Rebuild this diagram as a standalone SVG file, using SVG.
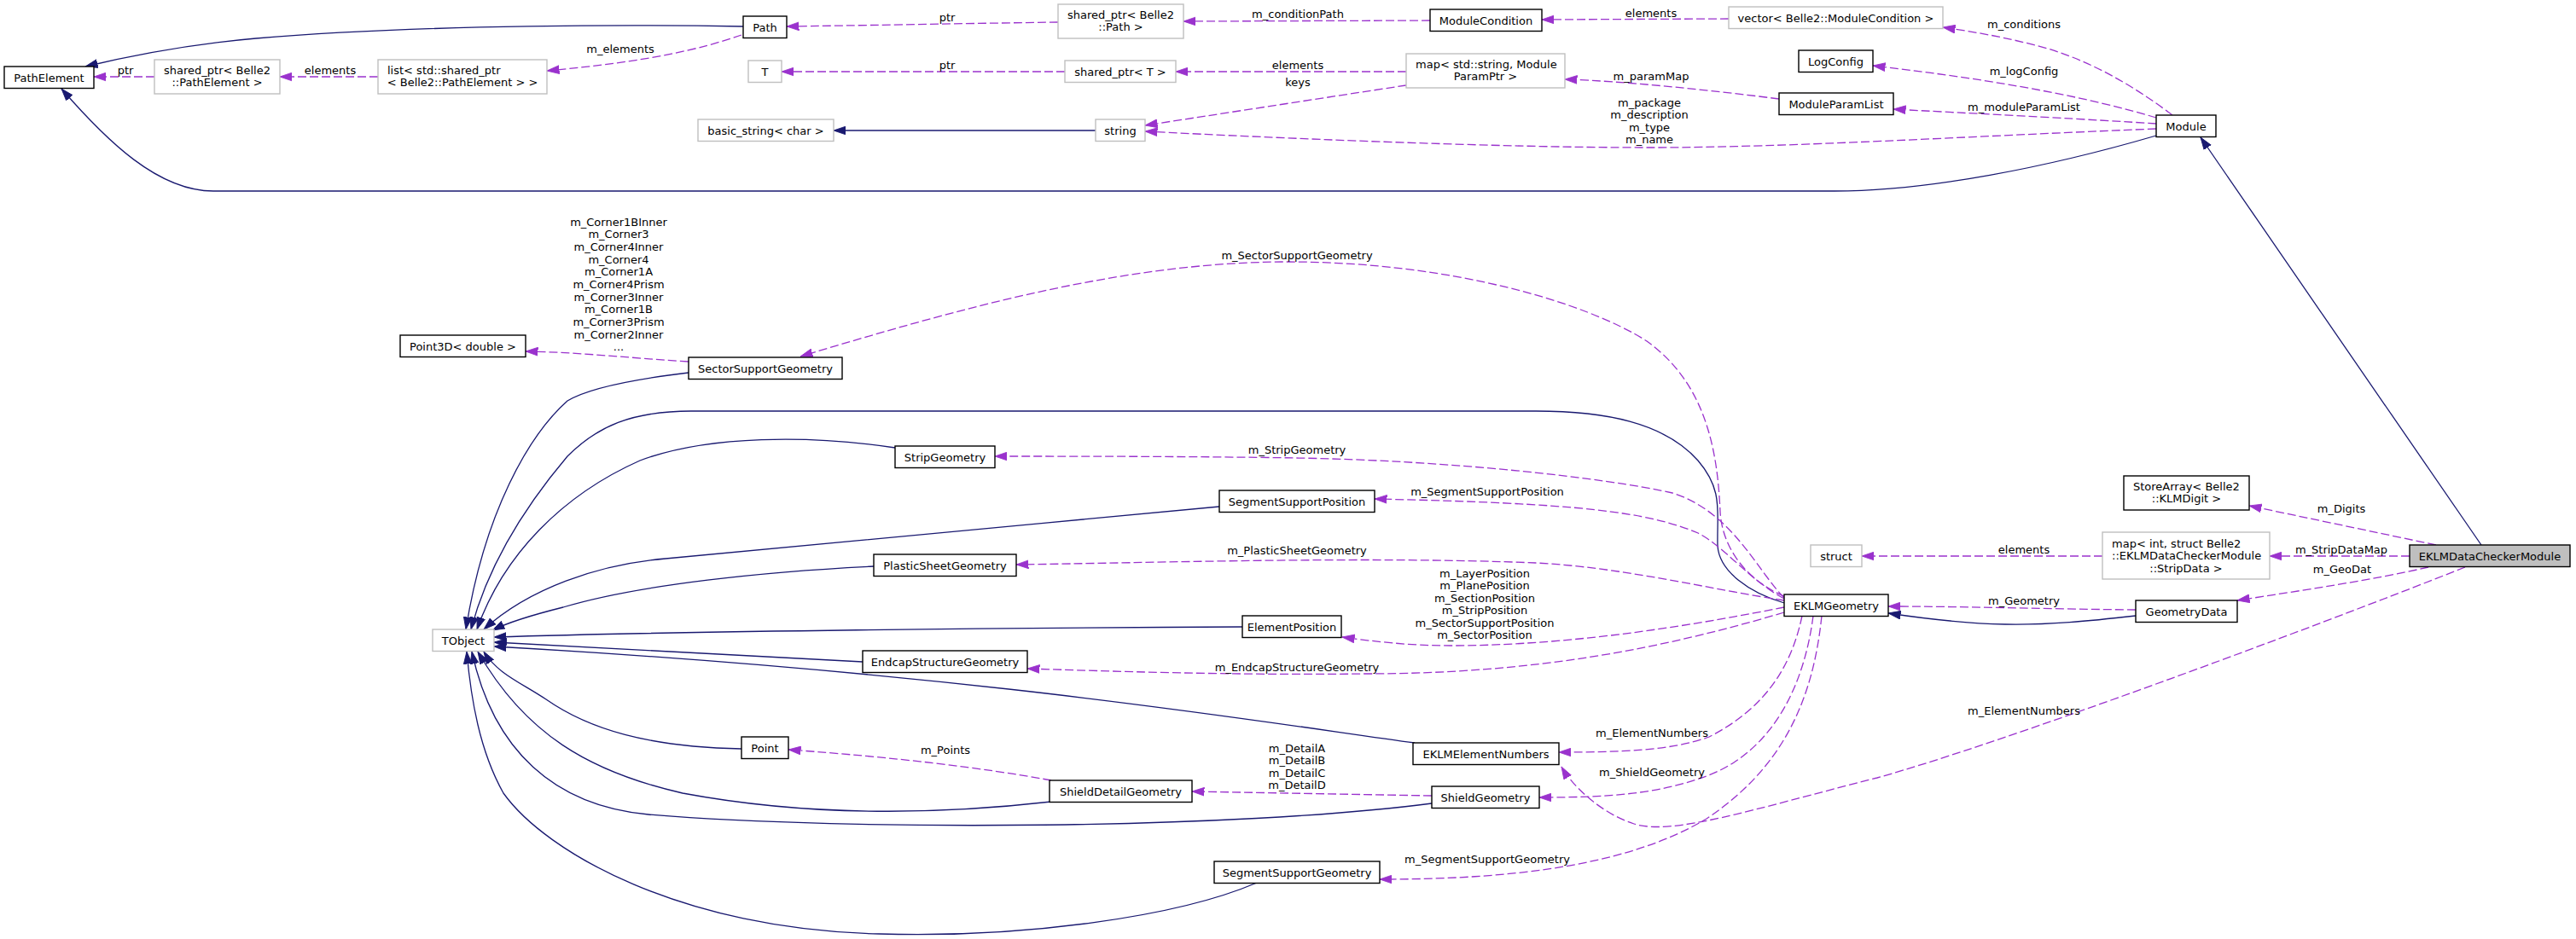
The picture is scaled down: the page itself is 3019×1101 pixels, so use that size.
<svg xmlns="http://www.w3.org/2000/svg" width="3019" height="1101" viewBox="0 0 3019 1101">
<style>
text{font-family:"DejaVu Sans","Liberation Sans",sans-serif;font-size:13px;fill:#000}
.m{text-anchor:middle}
.s{text-anchor:start}
.n rect{fill:#fff;stroke:#000;stroke-width:1.4}
.g rect{fill:#fff;stroke:#bfbfbf;stroke-width:1.4}
.cur rect{fill:#bfbfbf;stroke:#000;stroke-width:1.4}
.inh{fill:none;stroke:#191970;stroke-width:1.3;marker-end:url(#ah)}
.use{fill:none;stroke:#9a32cd;stroke-width:1.3;stroke-dasharray:10,4;marker-end:url(#au)}
</style>
<defs>
<marker id="ah" markerUnits="userSpaceOnUse" markerWidth="15" markerHeight="11" viewBox="0 0 14 10" refX="13.5" refY="5" orient="auto"><path d="M0,0.4 L13.5,5 L0,9.6 z" fill="#191970" stroke="#191970" stroke-width="0.8"/></marker>
<marker id="au" markerUnits="userSpaceOnUse" markerWidth="15" markerHeight="11" viewBox="0 0 14 10" refX="13.5" refY="5" orient="auto"><path d="M0,0.4 L13.5,5 L0,9.6 z" fill="#9a32cd" stroke="#9a32cd" stroke-width="0.8"/></marker>
</defs>
<rect width="3019" height="1101" fill="#fff"/>
<g id="edges">
<!-- inheritance -->
<path class="inh" d="M871,31 C760,29 500,28 300,45 C220,52 150,66 100,78"/>
<path class="inh" d="M2527,159 C2400,196 2260,224 2150,224 L250,224 C185,224 125,165 72,104"/>
<path class="inh" d="M2908,639 L2579,161"/>
<path class="inh" d="M1284,153 L977,153"/>
<path class="inh" d="M807,437 C740,445 690,455 665,470 C620,510 568,600 546,738"/>
<path class="inh" d="M2091,707 C2050,695 2015,670 2013,640 C2012,600 2020,575 1990,540 C1950,495 1880,482 1800,482 L810,482 C740,482 700,500 665,535 C610,600 570,670 552,738"/>
<path class="inh" d="M1049,525 C950,510 830,510 750,540 C660,580 590,650 559,738"/>
<path class="inh" d="M1429,594 C1200,615 900,645 780,655 C700,662 620,690 567,738"/>
<path class="inh" d="M1024,664 C900,670 750,685 660,712 C620,722 595,730 577,739"/>
<path class="inh" d="M1456,735 C1200,736 800,740 579,747"/>
<path class="inh" d="M1011,776 C850,768 700,760 579,753"/>
<path class="inh" d="M1658,871 C1500,850 1150,790 579,758"/>
<path class="inh" d="M869,878 C760,876 690,855 640,820 C610,800 583,790 567,764"/>
<path class="inh" d="M1232,940 C1100,955 950,958 800,930 C690,905 615,860 560,764"/>
<path class="inh" d="M1678,942 C1450,972 1000,975 760,955 C650,945 578,880 553,764"/>
<path class="inh" d="M1473,1035 C1380,1075 1200,1100 1030,1095 C800,1090 640,1000 590,930 C562,880 552,820 547,764"/>
<path class="inh" d="M2503,722 C2450,728 2400,733 2350,732 C2300,731 2260,726 2213,719"/>
<!-- usage -->
<path class="use" d="M181,90 L110,90"/>
<text class="m" x="147" y="86.5">ptr</text>
<path class="use" d="M443,90 L328,90"/>
<text class="m" x="387" y="86.5">elements</text>
<path class="use" d="M869,41 C820,58 760,72 641,83"/>
<text class="m" x="727" y="61.5">m_elements</text>
<path class="use" d="M1240,26 C1100,28 1000,30 922,31"/>
<text class="m" x="1110" y="24.5">ptr</text>
<path class="use" d="M1676,24 L1387,25"/>
<text class="m" x="1521" y="20.5">m_conditionPath</text>
<path class="use" d="M2026,22 L1807,23"/>
<text class="m" x="1935" y="19.5">elements</text>
<path class="use" d="M2546,135 C2500,100 2450,72 2400,57 C2350,43 2310,37 2277,32"/>
<text class="m" x="2372" y="32.5">m_conditions</text>
<path class="use" d="M1248,84 L916,84"/>
<text class="m" x="1110" y="80.5">ptr</text>
<path class="use" d="M1648,84 L1378,84"/>
<text class="m" x="1521" y="80.5">elements</text>
<path class="use" d="M1648,100 C1550,115 1420,135 1342,147"/>
<text class="m" x="1521" y="100.5">keys</text>
<path class="use" d="M2527,138 C2450,115 2350,95 2195,77"/>
<text class="m" x="2372" y="87.5">m_logConfig</text>
<path class="use" d="M2527,145 C2450,140 2350,135 2219,128"/>
<text class="m" x="2372" y="129.5">m_moduleParamList</text>
<path class="use" d="M2085,116 C2000,105 1900,95 1834,93"/>
<text class="m" x="1935" y="93.5">m_paramMap</text>
<path class="use" d="M2527,151 C2300,160 2100,173 1933,173 C1750,173 1500,162 1342,154"/>
<text class="m" x="1933" y="124.5">m_package</text>
<text class="m" x="1933" y="139">m_description</text>
<text class="m" x="1933" y="153.5">m_type</text>
<text class="m" x="1933" y="168">m_name</text>
<path class="use" d="M807,424 C740,420 680,413 616,412"/>
<text class="m" x="725" y="264.5">m_Corner1BInner</text>
<text class="m" x="725" y="279.2">m_Corner3</text>
<text class="m" x="725" y="293.9">m_Corner4Inner</text>
<text class="m" x="725" y="308.6">m_Corner4</text>
<text class="m" x="725" y="323.3">m_Corner1A</text>
<text class="m" x="725" y="338">m_Corner4Prism</text>
<text class="m" x="725" y="352.7">m_Corner3Inner</text>
<text class="m" x="725" y="367.4">m_Corner1B</text>
<text class="m" x="725" y="382.1">m_Corner3Prism</text>
<text class="m" x="725" y="396.8">m_Corner2Inner</text>
<text class="m" x="725" y="410.5">...</text>
<path class="use" d="M2091,699 C2045,680 2018,640 2016,600 C2013,530 2000,450 1930,400 C1860,355 1700,307 1510,307 C1320,307 1130,360 938,418"/>
<text class="m" x="1520" y="304">m_SectorSupportGeometry</text>
<path class="use" d="M2091,701 C2060,670 2030,600 1960,578 C1880,560 1700,540 1520,537 C1400,535 1250,535 1166,535"/>
<text class="m" x="1520" y="532">m_StripGeometry</text>
<path class="use" d="M2091,702 C2050,680 2020,640 1990,625 C1930,600 1850,590 1611,585"/>
<text class="m" x="1743" y="580.5">m_SegmentSupportPosition</text>
<path class="use" d="M2091,704 C2000,690 1900,665 1800,660 C1600,652 1350,660 1191,662"/>
<text class="m" x="1520" y="649.5">m_PlasticSheetGeometry</text>
<path class="use" d="M2091,712 C2000,730 1850,757 1700,757 C1650,757 1610,752 1573,747"/>
<text class="m" x="1740" y="676.5">m_LayerPosition</text>
<text class="m" x="1740" y="691">m_PlanePosition</text>
<text class="m" x="1740" y="705.5">m_SectionPosition</text>
<text class="m" x="1740" y="720">m_StripPosition</text>
<text class="m" x="1740" y="734.5">m_SectorSupportPosition</text>
<text class="m" x="1740" y="749">m_SectorPosition</text>
<path class="use" d="M2091,718 C1950,760 1800,790 1600,790 C1450,792 1300,787 1204,784"/>
<text class="m" x="1520" y="787">m_EndcapStructureGeometry</text>
<path class="use" d="M2112,722 C2100,780 2070,830 2003,864 C1960,880 1900,882 1827,882"/>
<text class="m" x="1936" y="863.5">m_ElementNumbers</text>
<path class="use" d="M2125,722 C2115,800 2080,880 2000,910 C1940,932 1880,935 1804,935"/>
<text class="m" x="1936" y="909.5">m_ShieldGeometry</text>
<path class="use" d="M2135,722 C2125,820 2090,900 2000,960 C1900,1020 1750,1031 1617,1031"/>
<text class="m" x="1743" y="1011.5">m_SegmentSupportGeometry</text>
<path class="use" d="M1678,933 L1397,928"/>
<text class="m" x="1520" y="881.5">m_DetailA</text>
<text class="m" x="1520" y="896">m_DetailB</text>
<text class="m" x="1520" y="910.5">m_DetailC</text>
<text class="m" x="1520" y="925">m_DetailD</text>
<path class="use" d="M1232,915 C1150,900 1050,888 924,879"/>
<text class="m" x="1108" y="883.5">m_Points</text>
<path class="use" d="M2464,652 L2182,652"/>
<text class="m" x="2372" y="648.5">elements</text>
<path class="use" d="M2503,715 C2400,714 2300,711 2213,711"/>
<text class="m" x="2372" y="708.5">m_Geometry</text>
<path class="use" d="M2855,639 L2636,593"/>
<text class="m" x="2744" y="600.5">m_Digits</text>
<path class="use" d="M2824,652 L2660,652"/>
<text class="m" x="2744" y="648.5">m_StripDataMap</text>
<path class="use" d="M2846,665 C2780,680 2700,692 2622,704"/>
<text class="m" x="2745" y="671.5">m_GeoDat</text>
<path class="use" d="M2889,665 C2700,740 2350,870 2200,912 C2050,950 1960,980 1915,966 C1880,955 1845,925 1830,899"/>
<text class="m" x="2372" y="837.5">m_ElementNumbers</text>
</g>
<g id="node-PathElement" class="n"><rect x="5" y="78" width="105" height="25.5"/><text class="m" x="57.5" y="95.5">PathElement</text></g>
<g id="node-SharedPtrPathElement" class="g"><rect x="181" y="70" width="147" height="40"/><text class="s" x="192" y="86.5">shared_ptr&lt; Belle2</text><text class="m" x="254.5" y="101">::PathElement &gt;</text></g>
<g id="node-ListSharedPtr" class="g"><rect x="443" y="70" width="198" height="40"/><text class="s" x="454" y="86.5">list&lt; std::shared_ptr</text><text class="m" x="542" y="101">&lt; Belle2::PathElement &gt; &gt;</text></g>
<g id="node-Path" class="n"><rect x="871" y="19" width="51" height="25.5"/><text class="m" x="896.5" y="36.5">Path</text></g>
<g id="node-SharedPtrPath" class="g"><rect x="1240" y="5" width="147" height="40"/><text class="s" x="1251" y="21.5">shared_ptr&lt; Belle2</text><text class="m" x="1313.5" y="36">::Path &gt;</text></g>
<g id="node-ModuleCondition" class="n"><rect x="1676" y="11" width="131" height="25.5"/><text class="m" x="1741.5" y="28.5">ModuleCondition</text></g>
<g id="node-VectorModuleCondition" class="g"><rect x="2026" y="8" width="251" height="25.5"/><text class="m" x="2151.5" y="25.5">vector&lt; Belle2::ModuleCondition &gt;</text></g>
<g id="node-T" class="g"><rect x="877" y="71" width="39" height="25.5"/><text class="m" x="896.5" y="88.5">T</text></g>
<g id="node-SharedPtrT" class="g"><rect x="1248" y="71" width="130" height="25.5"/><text class="m" x="1313" y="88.5">shared_ptr&lt; T &gt;</text></g>
<g id="node-MapStringParam" class="g"><rect x="1648" y="63" width="186" height="40"/><text class="s" x="1659" y="79.5">map&lt; std::string, Module</text><text class="m" x="1741" y="94">ParamPtr &gt;</text></g>
<g id="node-LogConfig" class="n"><rect x="2108" y="59" width="87" height="25.5"/><text class="m" x="2151.5" y="76.5">LogConfig</text></g>
<g id="node-ModuleParamList" class="n"><rect x="2085" y="109" width="134" height="25.5"/><text class="m" x="2152" y="126.5">ModuleParamList</text></g>
<g id="node-BasicString" class="g"><rect x="818" y="140" width="159" height="25.5"/><text class="m" x="897.5" y="157.5">basic_string&lt; char &gt;</text></g>
<g id="node-string" class="g"><rect x="1284" y="140" width="58" height="25.5"/><text class="m" x="1313" y="157.5">string</text></g>
<g id="node-Module" class="n"><rect x="2527" y="135" width="70" height="25.5"/><text class="m" x="2562" y="152.5">Module</text></g>
<g id="node-Point3D" class="n"><rect x="469" y="393" width="147" height="25.5"/><text class="m" x="542.5" y="410.5">Point3D&lt; double &gt;</text></g>
<g id="node-SectorSupportGeometry" class="n"><rect x="807" y="419" width="180" height="25.5"/><text class="m" x="897" y="436.5">SectorSupportGeometry</text></g>
<g id="node-StripGeometry" class="n"><rect x="1049" y="523" width="117" height="25.5"/><text class="m" x="1107.5" y="540.5">StripGeometry</text></g>
<g id="node-SegmentSupportPosition" class="n"><rect x="1429" y="575" width="182" height="25.5"/><text class="m" x="1520" y="592.5">SegmentSupportPosition</text></g>
<g id="node-PlasticSheetGeometry" class="n"><rect x="1024" y="650" width="167" height="25.5"/><text class="m" x="1107.5" y="667.5">PlasticSheetGeometry</text></g>
<g id="node-TObject" class="g"><rect x="507" y="738" width="72" height="25.5"/><text class="m" x="543" y="755.5">TObject</text></g>
<g id="node-ElementPosition" class="n"><rect x="1456" y="722" width="116" height="25.5"/><text class="m" x="1514" y="739.5">ElementPosition</text></g>
<g id="node-EndcapStructureGeometry" class="n"><rect x="1011" y="763" width="193" height="25.5"/><text class="m" x="1107.5" y="780.5">EndcapStructureGeometry</text></g>
<g id="node-EKLMGeometry" class="n"><rect x="2091" y="697" width="122" height="25.5"/><text class="m" x="2152" y="714.5">EKLMGeometry</text></g>
<g id="node-struct" class="g"><rect x="2122" y="639" width="60" height="25.5"/><text class="m" x="2152" y="656.5">struct</text></g>
<g id="node-StoreArray" class="n"><rect x="2489" y="558" width="147" height="40"/><text class="s" x="2500" y="574.5">StoreArray&lt; Belle2</text><text class="m" x="2562.5" y="589">::KLMDigit &gt;</text></g>
<g id="node-MapStripData" class="g"><rect x="2464" y="624" width="196" height="55"/><text class="s" x="2475" y="641.5">map&lt; int, struct Belle2</text><text class="s" x="2475" y="656">::EKLMDataCheckerModule</text><text class="m" x="2562" y="670.5">::StripData &gt;</text></g>
<g id="node-GeometryData" class="n"><rect x="2503" y="704" width="119" height="25.5"/><text class="m" x="2562.5" y="721.5">GeometryData</text></g>
<g id="node-EKLMDataCheckerModule" class="cur"><rect x="2824" y="639" width="188" height="25.5"/><text class="m" x="2918" y="656.5">EKLMDataCheckerModule</text></g>
<g id="node-Point" class="n"><rect x="869" y="864" width="55" height="25.5"/><text class="m" x="896.5" y="881.5">Point</text></g>
<g id="node-EKLMElementNumbers" class="n"><rect x="1656" y="871" width="171" height="25.5"/><text class="m" x="1741.5" y="888.5">EKLMElementNumbers</text></g>
<g id="node-ShieldDetailGeometry" class="n"><rect x="1230" y="915" width="167" height="25.5"/><text class="m" x="1313.5" y="932.5">ShieldDetailGeometry</text></g>
<g id="node-ShieldGeometry" class="n"><rect x="1678" y="922" width="126" height="25.5"/><text class="m" x="1741" y="939.5">ShieldGeometry</text></g>
<g id="node-SegmentSupportGeometry" class="n"><rect x="1423" y="1010" width="194" height="25.5"/><text class="m" x="1520" y="1027.5">SegmentSupportGeometry</text></g>
</svg>
